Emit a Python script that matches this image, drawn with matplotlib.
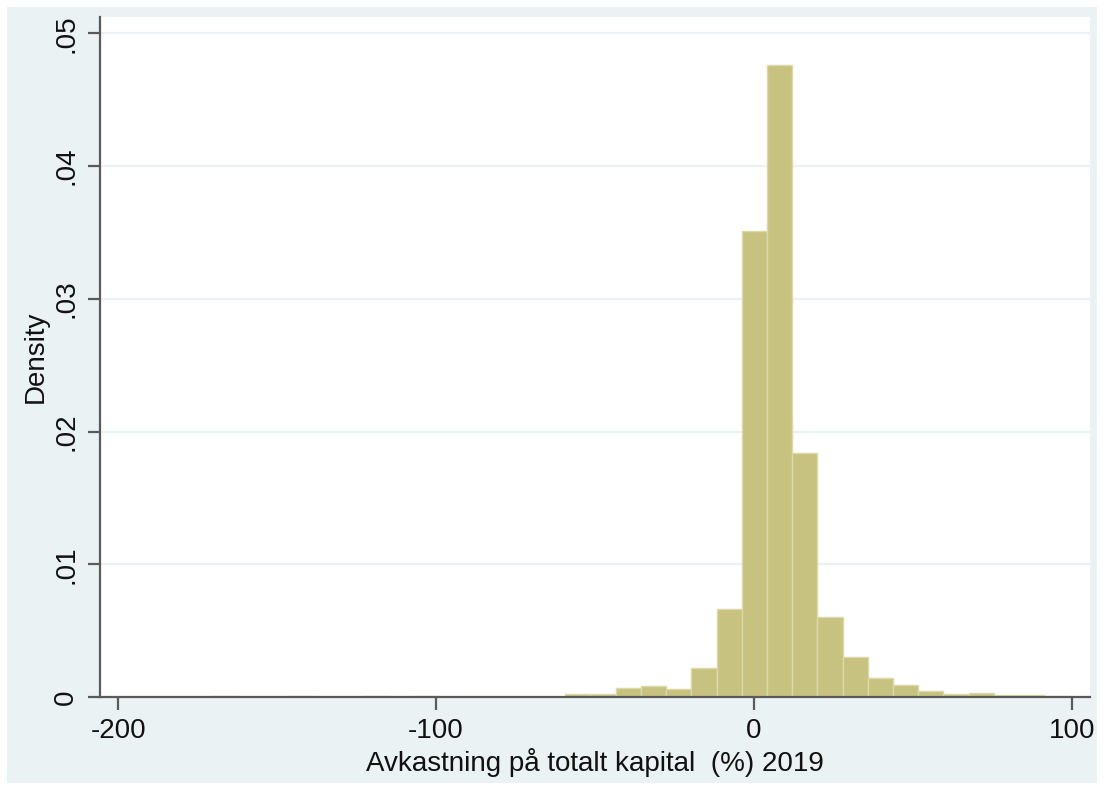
import matplotlib
matplotlib.use("Agg")
import matplotlib.pyplot as plt
from matplotlib.patches import Rectangle
import numpy as np

plt.rcParams['font.family'] = ['Liberation Sans', 'DejaVu Sans']

# Histogram of return on total capital (%) 2019, density scale
bin_start = -202.1
bin_width = 7.93
density = [
    0, 0, 0, 0, 0.0001, 0, 0, 0.0001, 0, 0,
    0.0001, 0, 0.0001, 0, 0, 0, 0, 0, 0.0002, 0.0002,
    0.00065, 0.0008, 0.0006, 0.0022, 0.0066, 0.0351, 0.0476, 0.0184, 0.0060, 0.0030,
    0.0014, 0.0009, 0.00045, 0.0002, 0.0003, 0.00017, 0.00012, 0.0001,
]
x_ticks = [-200, -100, 0, 100]
x_tick_labels = ["-200", "-100", "0", "100"]
y_ticks = [0, 0.01, 0.02, 0.03, 0.04, 0.05]
y_tick_labels = ["0", ".01", ".02", ".03", ".04", ".05"]
x_label = "Avkastning på totalt kapital  (%) 2019"
y_label = "Density"

outer_bg = "#eaf2f3"
bar_face = "#c8c281"
bar_edge = "#dcd9a9"
axis_col = "#5a5a5a"

fig = plt.figure(figsize=(11.03, 7.90), dpi=100, facecolor="white")
fig.patches.append(Rectangle((7 / 1103, 7 / 790), 1090 / 1103, 776 / 790,
                             transform=fig.transFigure, facecolor=outer_bg,
                             edgecolor="none", zorder=-10))

ax = fig.add_axes([100 / 1103, 1 - 697 / 790, 990 / 1103, 680 / 790])
ax.set_zorder(1)
ax.set_facecolor("white")

lefts = bin_start + bin_width * np.arange(len(density))
ax.bar(lefts, density, width=bin_width, align="edge", color=bar_face,
       edgecolor=bar_edge, linewidth=1.0, zorder=3)

ax.set_xlim(-205.7, 105.7)
ax.set_ylim(0, 0.05124)

for y in y_ticks[1:]:
    ax.axhline(y, color=outer_bg, lw=1.6, zorder=1)

for side in ("top", "right"):
    ax.spines[side].set_visible(False)
for side in ("left", "bottom"):
    ax.spines[side].set_color(axis_col)
    ax.spines[side].set_linewidth(1.6)
    ax.spines[side].set_zorder(4)

ax.set_xticks(x_ticks)
ax.set_xticklabels(x_tick_labels)
ax.set_yticks(y_ticks)
ax.set_yticklabels(y_tick_labels, rotation=90, va="center")
ax.tick_params(axis="both", direction="out", length=9, width=1.6,
               color=axis_col, labelsize=20, labelcolor="#111111", pad=6)

ax.set_xlabel(x_label, fontsize=20, color="#111111", labelpad=3)
ax.set_ylabel(y_label, fontsize=20, color="#111111", labelpad=3)

fig.savefig("out.png", dpi=100, facecolor="white")
